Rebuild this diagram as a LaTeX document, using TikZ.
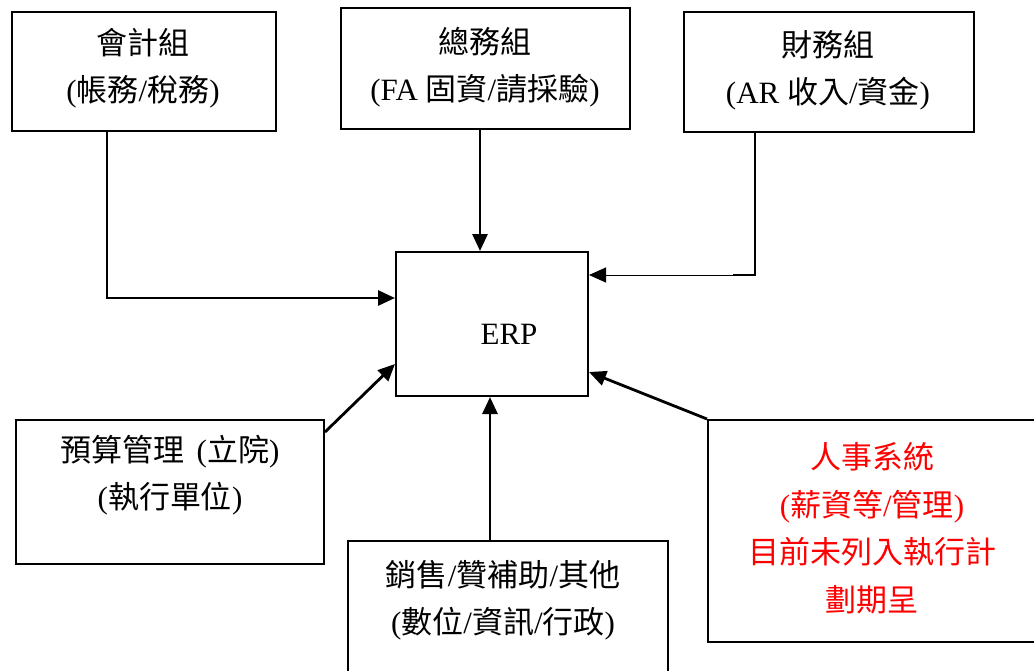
\documentclass[tikz,border=0pt]{standalone}
\usepackage{fontspec}
\setmainfont{Liberation Serif}
\newfontfamily\cjk{Noto Sans CJK TC}
\newcommand\zh[1]{{\cjk #1}}
\usetikzlibrary{arrows.meta}
\tikzset{
  box/.style={draw, line width=2pt, inner sep=0pt, anchor=north west, fill=white},
  lbl/.style={font=\fontsize{31}{47.5}\selectfont, align=center, inner sep=0pt},
  conn/.style={line width=2.8pt, -{Triangle[length=17pt,width=15pt]}},
  thinconn/.style={line width=1pt, -{Triangle[length=17pt,width=15pt]}},
  heavy/.style={line width=2.8pt},
}
\begin{document}
\begin{tikzpicture}[x=1pt,y=-1pt]
\useasboundingbox (0,0) rectangle (1034,670);
% boxes
\node[box, minimum width=264pt, minimum height=119pt] (acc) at (11,11) {};
\node[box, minimum width=289pt, minimum height=121pt] (gen) at (340,7) {};
\node[box, minimum width=290pt, minimum height=120pt] (fin) at (683,11) {};
\node[box, minimum width=192pt, minimum height=144pt] (erp) at (395,251) {};
\node[box, minimum width=308pt, minimum height=144pt] (bud) at (15,419) {};
\node[box, minimum width=320pt, minimum height=150pt] (sales) at (347,540) {};
\node[box, minimum width=340pt, minimum height=222pt] (hr) at (707,419) {};
% labels
\node[lbl] (accT) at (143,68) {\zh{會計組}\\(\zh{帳務}/\zh{稅務})};
\node[lbl] (genT) at (485,67) {\zh{總務組}\\(FA \zh{固資}/\zh{請採驗})};
\node[lbl] (finT) at (828,70) {\zh{財務組}\\(AR \zh{收入}/\zh{資金})};
\node[lbl] (erpT) at (509,334) {ERP};
\node[lbl] (budT) at (170,475) {\zh{預算管理}\hspace{12pt}(\zh{立院})\\(\zh{執行單位})};
\node[lbl] (salesT) at (503,600) {\zh{銷售}/\zh{贊補助}/\zh{其他}\\(\zh{數位}/\zh{資訊}/\zh{行政})};
\node[lbl, text=red] (hrT) at (872,528) {\zh{人事系統}\\(\zh{薪資等}/\zh{管理})\\\zh{目前未列入執行計}\\\zh{劃期呈}};
% connectors
\draw[conn] (acc.south -| 107,0) |- (erp.west |- 0,298);
\draw[conn] (gen.south -| 480,0) -- (erp.north -| 480,0);
\coordinate (fbend) at (733,275);
\draw[heavy] (fin.south -| 755,0) |- (fbend);
\draw[thinconn] (fbend) -- (erp.east |- 0,275);
\draw[conn] (bud.east |- 0,432) -- (erp.west |- 0,364);
\draw[conn] (sales.north -| 490,0) -- (erp.south -| 490,0);
\draw[conn] (hr.north west) -- (erp.east |- 0,372);
\end{tikzpicture}
\end{document}
